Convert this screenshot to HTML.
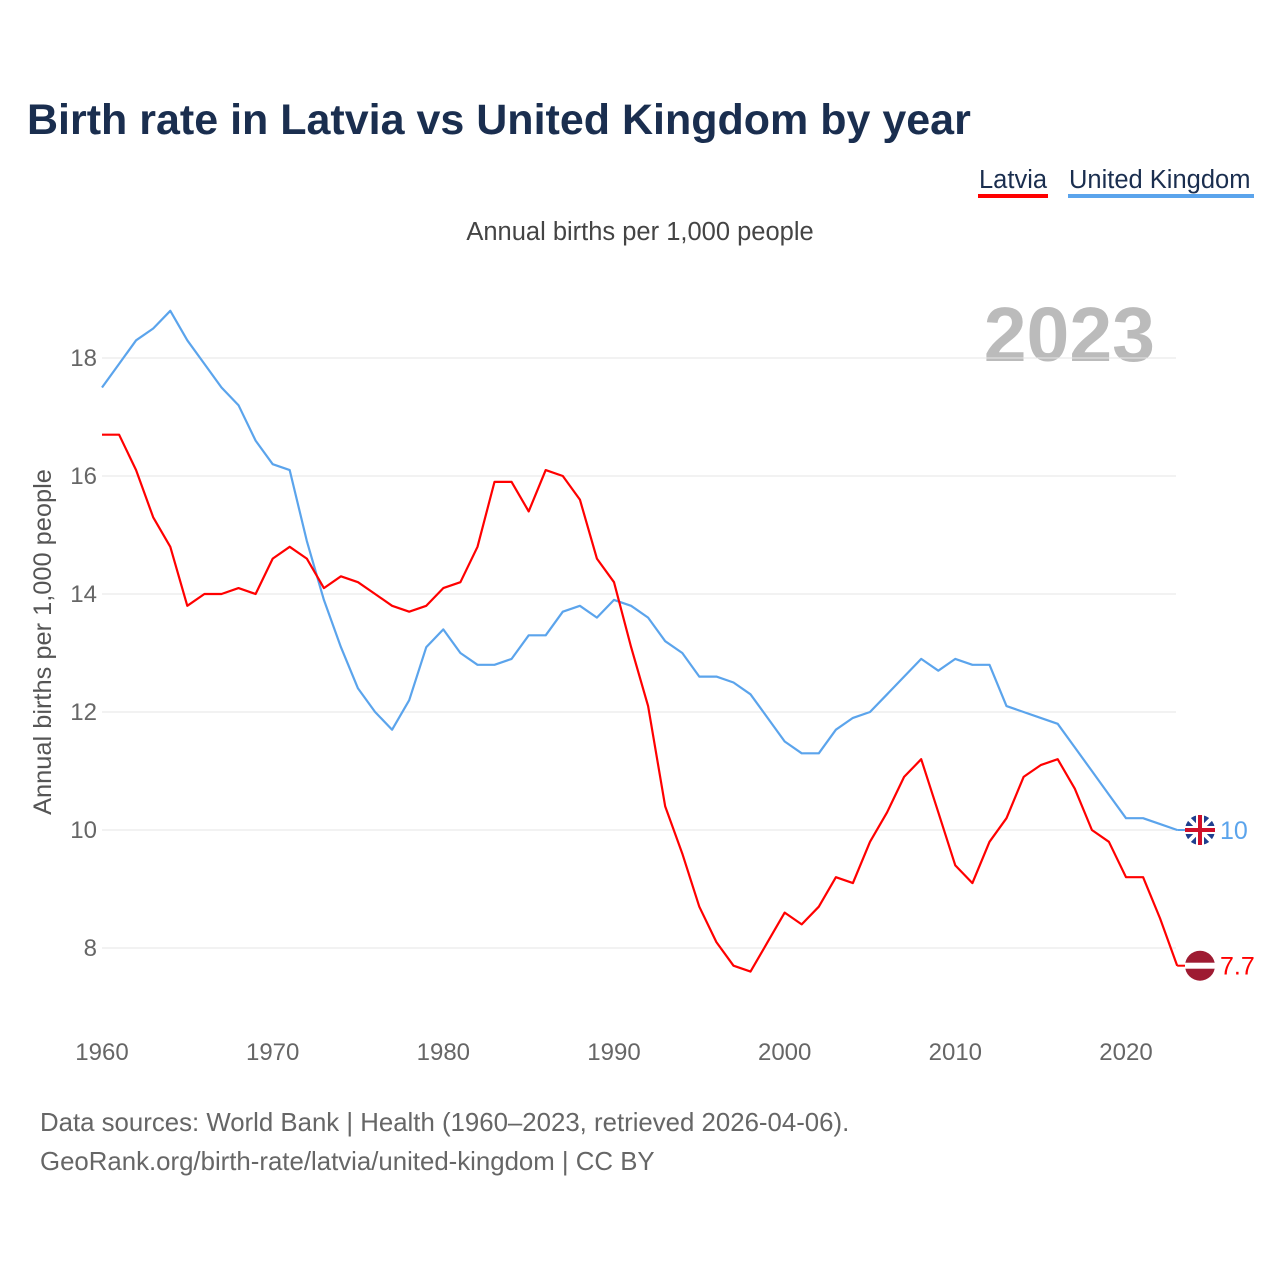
<!DOCTYPE html>
<html><head><meta charset="utf-8"><style>
body{margin:0;background:#fff;font-family:"Liberation Sans",sans-serif;}
</style></head><body>
<svg width="1280" height="1280" xmlns="http://www.w3.org/2000/svg" font-family="Liberation Sans, sans-serif">
<text x="27" y="134" font-size="43" font-weight="bold" fill="#1a2e4f">Birth rate in Latvia vs United Kingdom by year</text>
<g><text x="979" y="188" font-size="25.5" fill="#1a2e4f">Latvia</text><rect x="978" y="194" width="70" height="4" fill="#ff0000"/></g>
<g><text x="1069" y="188" font-size="25.5" fill="#1a2e4f">United Kingdom</text><rect x="1068" y="194" width="186" height="4" fill="#5ba4ec"/></g>
<text x="640" y="240" font-size="25.5" fill="#444" text-anchor="middle">Annual births per 1,000 people</text>
<text x="1155" y="361" font-size="77" font-weight="bold" fill="#bbb" text-anchor="end">2023</text>
<text transform="translate(51,642) rotate(-90)" font-size="25.4" fill="#555" text-anchor="middle">Annual births per 1,000 people</text>
<g id="grid"></g><g id="xt"></g><g id="lines"></g>
<text x="40" y="1131" font-size="25.8" fill="#666">Data sources: World Bank | Health (1960–2023, retrieved 2026-04-06).</text>
<text x="40" y="1170" font-size="25.8" fill="#666">GeoRank.org/birth-rate/latvia/united-kingdom | CC BY</text>
</svg>
<script>
const startYear = 1960;
const latvia = [16.7,16.7,16.1,15.3,14.8,13.8,14.0,14.0,14.1,14.0,14.6,14.8,14.6,14.1,14.3,14.2,14.0,13.8,13.7,13.8,14.1,14.2,14.8,15.9,15.9,15.4,16.1,16.0,15.6,14.6,14.2,13.1,12.1,10.4,9.6,8.7,8.1,7.7,7.6,8.1,8.6,8.4,8.7,9.2,9.1,9.8,10.3,10.9,11.2,10.3,9.4,9.1,9.8,10.2,10.9,11.1,11.2,10.7,10.0,9.8,9.2,9.2,8.5,7.7];
const uk = [17.5,17.9,18.3,18.5,18.8,18.3,17.9,17.5,17.2,16.6,16.2,16.1,14.9,13.9,13.1,12.4,12.0,11.7,12.2,13.1,13.4,13.0,12.8,12.8,12.9,13.3,13.3,13.7,13.8,13.6,13.9,13.8,13.6,13.2,13.0,12.6,12.6,12.5,12.3,11.9,11.5,11.3,11.3,11.7,11.9,12.0,12.3,12.6,12.9,12.7,12.9,12.8,12.8,12.1,12.0,11.9,11.8,11.4,11.0,10.6,10.2,10.2,10.1,10.0];
const yTicks = [8,10,12,14,16,18];
const xTicks = [1960,1970,1980,1990,2000,2010,2020];
const NS="http://www.w3.org/2000/svg";
const x = yr => 102 + (yr-1960)*1024/60;
const y = v => 948 - (v-8)*59;
function mk(t,a,p){const e=document.createElementNS(NS,t);for(const k in a)e.setAttribute(k,a[k]);p.appendChild(e);return e;}
const grid=document.getElementById('grid');
yTicks.forEach(v=>{
  const l=mk('line',{x1:102,x2:1176,y1:y(v),y2:y(v),stroke:'#e6e6e6','stroke-width':1},grid);
  
  
  const t=mk('text',{x:97,y:y(v)+8,'font-size':24,fill:'#666','text-anchor':'end'},grid);
  t.textContent=v;
  
  
});
const xt=document.getElementById('xt');
xTicks.forEach(v=>{
  const t=mk('text',{x:x(v),y:1060,'font-size':24,fill:'#666','text-anchor':'middle'},xt);
  t.textContent=v;
  
  
});
const lines=document.getElementById('lines');
function series(arr,col,name){
  const d=arr.map((v,i)=>(i?'L':'M')+x(startYear+i).toFixed(1)+','+y(v).toFixed(1)).join('');
  const p=mk('path',{d:d,fill:'none',stroke:col,'stroke-width':2.2,'stroke-linejoin':'round'},lines);
  
  
  const last=arr[arr.length-1], ly=y(last), lx=x(startYear+arr.length-1);
  mk('line',{x1:lx,x2:1186,y1:ly,y2:ly,stroke:col,'stroke-width':2},lines);
  const g=mk('g',{},lines);
  
  
  if(name==='latvia'){
    mk('circle',{cx:1200,cy:ly,r:15,fill:'#9e1b32'},g);
    mk('rect',{x:1185,y:ly-3,width:30,height:6,fill:'#fff'},g);
  } else {
    mk('circle',{cx:1200,cy:ly,r:15,fill:'#1f3f8f'},g);
    mk('line',{x1:1189,y1:ly-11,x2:1211,y2:ly+11,stroke:'#fff','stroke-width':4},g);
    mk('line',{x1:1211,y1:ly-11,x2:1189,y2:ly+11,stroke:'#fff','stroke-width':4},g);
    mk('rect',{x:1185,y:ly-4,width:30,height:8,fill:'#fff'},g);
    mk('rect',{x:1196,y:ly-15,width:8,height:30,fill:'#fff'},g);
    mk('rect',{x:1185,y:ly-2,width:30,height:4,fill:'#d0102a'},g);
    mk('rect',{x:1198,y:ly-15,width:4,height:30,fill:'#d0102a'},g);
  }
  const t=mk('text',{x:1220,y:ly+9,'font-size':25,fill:col},g);
  t.textContent=last;
}
series(uk,'#5ba4ec','uk');
series(latvia,'#ff0000','latvia');
</script>
</body></html>
